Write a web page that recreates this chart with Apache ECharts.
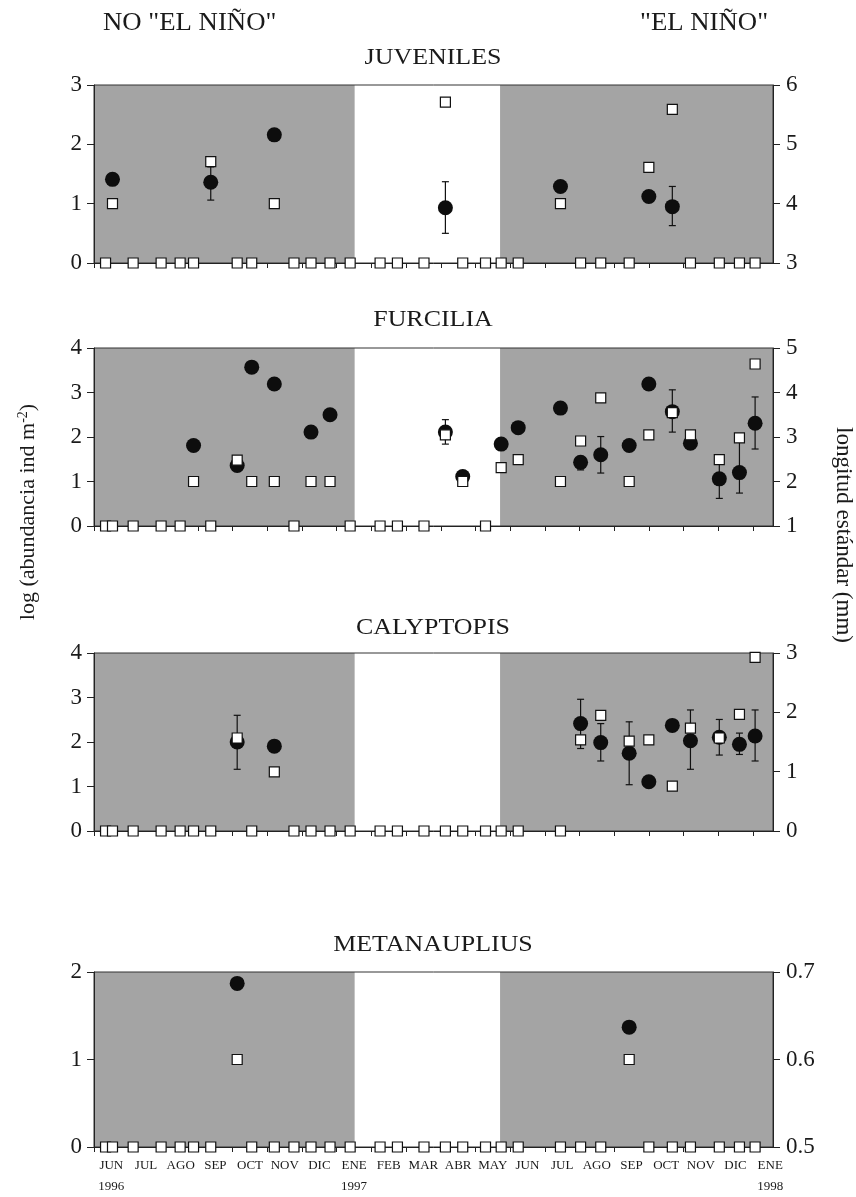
<!DOCTYPE html>
<html><head><meta charset="utf-8">
<script src="https://cdn.jsdelivr.net/npm/echarts@6/dist/echarts.min.js"></script>
<style>html,body{margin:0;padding:0;background:#fff}#c{width:856px;height:1197px}</style>
</head><body><div id="c"></div>
<script>
// ---------- DATA ----------
const sampleDates = ['1996-06-11','1996-06-17','1996-07-05','1996-07-30','1996-08-16','1996-08-28','1996-09-12','1996-10-05','1996-10-18','1996-11-07','1996-11-24','1996-12-09','1996-12-26','1997-01-13','1997-02-08','1997-02-22','1997-03-17','1997-04-05','1997-04-20','1997-05-10','1997-05-24','1997-06-08','1997-07-15','1997-08-02','1997-08-20','1997-09-14','1997-10-01','1997-10-22','1997-11-07','1997-12-02','1997-12-20','1998-01-03'];
const axisStart = '1996-06-01';
const axisEnd = '1998-01-19';
const noNinoPeriod = ['1996-06-01', '1997-01-17'];
const ninoPeriod = ['1997-05-23', '1998-01-19'];
const monthLabels = ['JUN\n1996','JUL','AGO','SEP','OCT','NOV','DIC','ENE\n1997','FEB','MAR','ABR','MAY','JUN','JUL','AGO','SEP','OCT','NOV','DIC','ENE\n1998'];
const panelTitles = ['JUVENILES','FURCILIA','CALYPTOPIS','METANAUPLIUS'];
const leftAxisRanges = [[0,3,1],[0,4,1],[0,4,1],[0,2,1]];
const rightAxisRanges = [[3,6,1],[1,5,1],[0,3,1],[0.5,0.7,0.1]];

// log abundance (squares, left axis)
const juvAbund = [0,1,0,0,0,0,1.71,0,0,1,0,0,0,0,0,0,0,2.71,0,0,0,0,1.0,0,0,0,1.61,2.59,0,0,0,0];
const furAbund = [0,0,0,0,0,1,0,1.48,1,1,0,1,1,0,0,0,0,2.05,1.0,0,1.31,1.49,1.0,1.91,2.88,1.0,2.05,2.55,2.05,1.49,1.98,3.64];
const calAbund = [0,0,0,0,0,0,0,2.09,0,1.33,0,0,0,0,0,0,0,0,0,0,0,0,0,2.05,2.6,2.02,2.05,1.01,2.31,2.09,2.62,3.9];
const metAbund = [0,0,0,0,0,0,0,1,0,0,0,0,0,0,0,0,0,0,0,0,0,0,0,0,0,1,0,0,0,0,0,0];

// standard length (circles, right axis) with error bar ends
const juvLen     = [null,4.41,null,null,null,null,4.36,null,null,5.16,null,null,null,null,null,null,null,3.93,null,null,null,null,4.29,null,null,null,4.12,3.95,null,null,null,null];
const juvLenLow  = [null,null,null,null,null,null,4.06,null,null,null,null,null,null,null,null,null,null,3.50,null,null,null,null,null,null,null,null,4.03,3.63,null,null,null,null];
const juvLenHigh = [null,null,null,null,null,null,4.62,null,null,null,null,null,null,null,null,null,null,4.37,null,null,null,null,null,null,null,null,4.22,4.29,null,null,null,null];

const furLen     = [null,null,null,null,null,2.81,null,2.36,4.57,4.19,null,3.11,3.50,null,null,null,null,3.11,2.11,null,2.84,3.21,3.65,2.43,2.60,2.81,4.19,3.57,2.86,2.06,2.20,3.31];
const furLenLow  = [null,null,null,null,null,null,null,null,null,null,null,null,null,null,null,null,null,2.84,null,null,null,null,null,2.26,2.19,null,null,3.11,null,1.62,1.74,2.73];
const furLenHigh = [null,null,null,null,null,null,null,null,null,null,null,null,null,null,null,null,null,3.39,null,null,null,null,null,2.56,3.01,null,null,4.06,null,2.49,2.88,3.90];

const calLen     = [null,null,null,null,null,null,null,1.50,null,1.43,null,null,null,null,null,null,null,null,null,null,null,null,null,1.81,1.49,1.31,0.83,1.78,1.52,1.58,1.46,1.60];
const calLenLow  = [null,null,null,null,null,null,null,1.04,null,null,null,null,null,null,null,null,null,null,null,null,null,null,null,1.39,1.18,0.78,null,null,1.04,1.28,1.29,1.18];
const calLenHigh = [null,null,null,null,null,null,null,1.95,null,null,null,null,null,null,null,null,null,null,null,null,null,null,null,2.22,1.81,1.84,null,null,2.04,1.88,1.65,2.04];

const metLen     = [null,null,null,null,null,null,null,0.687,null,null,null,null,null,null,null,null,null,null,null,null,null,null,null,null,null,0.637,null,null,null,null,null,null];
const metLenLow  = metLen.map(() => null);
const metLenHigh = metLen.map(() => null);

// ---------- BUILD ----------
function toMonth(s) {
  const [y, m, d] = s.split('-').map(Number);
  const dim = new Date(y, m, 0).getDate();
  return (y - 1996) * 12 + (m - 6) + (d - 1) / dim;
}
const xs = sampleDates.map(toMonth);
const xMin = toMonth(axisStart), xMax = toMonth(axisEnd);

const panels = [
  {abund: juvAbund, len: juvLen, lo: juvLenLow, hi: juvLenHigh},
  {abund: furAbund, len: furLen, lo: furLenLow, hi: furLenHigh},
  {abund: calAbund, len: calLen, lo: calLenLow, hi: calLenHigh},
  {abund: metAbund, len: metLen, lo: metLenLow, hi: metLenHigh}
];
const gridTops = [85, 348, 653, 972];
const gridHeights = [178, 178, 178, 175];
const FONT = '"Liberation Serif", "Times New Roman", serif';
const INK = '#1a1a1a';
const SHADE = '#a4a4a4';

const grid = [], xAxis = [], yAxis = [], series = [];
panels.forEach((p, i) => {
  grid.push({left: 94, right: 83, top: gridTops[i], height: gridHeights[i],
    show: true, borderColor: '#333', borderWidth: 1, backgroundColor: 'transparent', z: 2});
  const isBottom = i === 3;
  xAxis.push({
    type: 'value', gridIndex: i, min: xMin, max: xMax, interval: 1, z: 3,
    axisLine: {show: true, onZero: false, lineStyle: {color: '#222', width: 1}},
    axisTick: {show: true, length: 5, lineStyle: {color: '#222'},
      customValues: monthLabels.map((_, k) => k)},
    splitLine: {show: false},
    axisLabel: isBottom ? {
      show: true, customValues: monthLabels.map((_, k) => k + 0.5),
      formatter: v => monthLabels[Math.floor(v)],
      fontFamily: FONT, fontSize: 13, color: INK, lineHeight: 21, margin: 8
    } : {show: false}
  });
  const L = leftAxisRanges[i], R = rightAxisRanges[i];
  yAxis.push({
    type: 'value', gridIndex: i, position: 'left', min: L[0], max: L[1], interval: L[2], z: 3,
    axisLine: {show: true, lineStyle: {color: '#222'}},
    axisTick: {show: true, length: 7, lineStyle: {color: '#222'}},
    splitLine: {show: false},
    axisLabel: {fontFamily: FONT, fontSize: 23, color: INK, margin: 12}
  });
  yAxis.push({
    type: 'value', gridIndex: i, position: 'right', min: R[0], max: R[1], interval: R[2], z: 3,
    axisLine: {show: true, lineStyle: {color: '#222'}},
    axisTick: {show: true, length: 7, lineStyle: {color: '#222'}},
    splitLine: {show: false},
    axisLabel: {fontFamily: FONT, fontSize: 23, color: INK, margin: 13,
      formatter: v => (R[2] < 1 ? v.toFixed(1) : String(v))}
  });
  // shaded periods
  series.push({
    type: 'line', xAxisIndex: i, yAxisIndex: 2 * i, data: [], z: 1, silent: true,
    markArea: {silent: true, itemStyle: {color: SHADE, opacity: 1},
      data: [[{xAxis: toMonth(noNinoPeriod[0])}, {xAxis: toMonth(noNinoPeriod[1])}],
             [{xAxis: toMonth(ninoPeriod[0])}, {xAxis: toMonth(ninoPeriod[1])}]]}
  });
  // error bars
  const errData = [];
  p.lo.forEach((lo, k) => { if (lo != null && p.hi[k] != null) errData.push([xs[k], lo, p.hi[k]]); });
  series.push({
    type: 'custom', xAxisIndex: i, yAxisIndex: 2 * i + 1, z: 4, silent: true,
    data: errData,
    encode: {x: 0, y: [1, 2]},
    renderItem: (params, api) => {
      const a = api.coord([api.value(0), api.value(1)]);
      const b = api.coord([api.value(0), api.value(2)]);
      const w = 3.5;
      const st = {stroke: '#111', lineWidth: 1.2};
      return {type: 'group', children: [
        {type: 'line', shape: {x1: a[0], y1: a[1], x2: b[0], y2: b[1]}, style: st},
        {type: 'line', shape: {x1: a[0] - w, y1: a[1], x2: a[0] + w, y2: a[1]}, style: st},
        {type: 'line', shape: {x1: b[0] - w, y1: b[1], x2: b[0] + w, y2: b[1]}, style: st}
      ]};
    }
  });
  // circles: standard length
  series.push({
    type: 'scatter', xAxisIndex: i, yAxisIndex: 2 * i + 1, z: 5, silent: true,
    symbol: 'circle', symbolSize: 15,
    itemStyle: {color: '#0d0d0d', opacity: 1},
    data: p.len.map((v, k) => v == null ? null : [xs[k], v]).filter(d => d)
  });
  // squares: log abundance
  series.push({
    type: 'scatter', xAxisIndex: i, yAxisIndex: 2 * i, z: 6, silent: true,
    symbol: 'rect', symbolSize: 10,
    itemStyle: {color: '#fff', borderColor: '#111', borderWidth: 1.2, opacity: 1},
    data: p.abund.map((v, k) => [xs[k], v])
  });
});

const titleY = [58, 320, 628, 945];
const graphic = [
  {type: 'text', x: 103, y: 23, scaleX: 1.07, style: {text: 'NO "EL NIÑO"', fontFamily: FONT, fontSize: 25, fill: INK, align: 'left', verticalAlign: 'middle'}},
  {type: 'text', x: 640, y: 23, scaleX: 1.07, style: {text: '"EL NIÑO"', fontFamily: FONT, fontSize: 25, fill: INK, align: 'left', verticalAlign: 'middle'}},
  {type: 'text', x: 28, y: 512, rotation: Math.PI / 2,
    style: {text: 'log (abundancia ind m{sup|-2})', fontFamily: FONT, fontSize: 22, fill: INK, align: 'center', verticalAlign: 'middle',
      rich: {sup: {fontFamily: FONT, fontSize: 14, fill: INK, verticalAlign: 'top', padding: [0, 0, 10, 0]}}}},
  {type: 'text', x: 843, y: 535, rotation: -Math.PI / 2,
    style: {text: 'longitud estándar (mm)', fontFamily: FONT, fontSize: 23, fill: INK, align: 'center', verticalAlign: 'middle'}}
];
panelTitles.forEach((t, i) => {
  graphic.push({type: 'text', x: 433, y: titleY[i], scaleX: 1.08,
    style: {text: t, fontFamily: FONT, fontSize: 24, fill: INK, align: 'center', verticalAlign: 'middle'}});
});

const chart = echarts.init(document.getElementById('c'), null, {renderer: 'canvas'});
chart.setOption({animation: false, backgroundColor: '#fff', grid, xAxis, yAxis, series, graphic});
</script></body></html>
